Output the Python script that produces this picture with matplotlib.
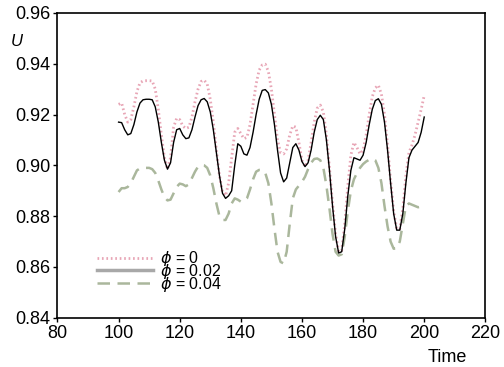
import matplotlib
matplotlib.use("Agg")
import matplotlib.pyplot as plt
import numpy as np
from matplotlib.lines import Line2D

plt.rcParams['font.family'] = ['Liberation Sans', 'DejaVu Sans']
plt.rcParams['mathtext.fontset'] = 'dejavusans'

# time axis, one sample per time unit (100..200)
time = np.arange(100, 201)

# phi = 0  (pink dotted)
u_phi0 = [0.9240, 0.9245, 0.9200, 0.9170, 0.9180, 0.9230, 0.9290, 0.9325, 0.9332, 0.9333,
          0.9333, 0.9332, 0.9300, 0.9220, 0.9120, 0.9030, 0.8985, 0.9030, 0.9150, 0.9185,
          0.9180, 0.9155, 0.9145, 0.9150, 0.9190, 0.9250, 0.9300, 0.9330, 0.9335, 0.9320,
          0.9260, 0.9170, 0.9060, 0.8960, 0.8895, 0.8880, 0.8930, 0.9030, 0.9130, 0.9145,
          0.9125, 0.9105, 0.9110, 0.9160, 0.9240, 0.9320, 0.9375, 0.9395, 0.9398, 0.9370,
          0.9300, 0.9200, 0.9100, 0.9050, 0.9045, 0.9065, 0.9120, 0.9155, 0.9150, 0.9090,
          0.9020, 0.8995, 0.9020, 0.9090, 0.9170, 0.9225, 0.9237, 0.9210, 0.9120, 0.8990,
          0.8850, 0.8730, 0.8660, 0.8665, 0.8770, 0.8920, 0.9040, 0.9090, 0.9070, 0.9045,
          0.9060, 0.9120, 0.9200, 0.9270, 0.9305, 0.9315, 0.9280, 0.9200, 0.9080, 0.8940,
          0.8820, 0.8750, 0.8750, 0.8830, 0.8960, 0.9050, 0.9080, 0.9120, 0.9170, 0.9220,
          0.9275]

# phi = 0.02  (black solid)
u_phi002 = [0.9170, 0.9168, 0.9140, 0.9120, 0.9125, 0.9160, 0.9210, 0.9245, 0.9258, 0.9260,
            0.9260, 0.9258, 0.9230, 0.9170, 0.9090, 0.9020, 0.8985, 0.9010, 0.9090, 0.9140,
            0.9145, 0.9120, 0.9105, 0.9108, 0.9140, 0.9190, 0.9235, 0.9258, 0.9263, 0.9250,
            0.9210, 0.9140, 0.9050, 0.8960, 0.8890, 0.8870, 0.8880, 0.8900, 0.9000, 0.9085,
            0.9075, 0.9045, 0.9040, 0.9070, 0.9130, 0.9200, 0.9260, 0.9295, 0.9298, 0.9285,
            0.9240, 0.9160, 0.9060, 0.8970, 0.8935, 0.8950, 0.9010, 0.9070, 0.9085, 0.9060,
            0.9015, 0.8995, 0.9010, 0.9060, 0.9130, 0.9180, 0.9197, 0.9180, 0.9100, 0.8980,
            0.8840, 0.8720, 0.8655, 0.8660, 0.8750, 0.8880, 0.8980, 0.9030, 0.9025, 0.9020,
            0.9040, 0.9090, 0.9160, 0.9220, 0.9255, 0.9262, 0.9240, 0.9170, 0.9060, 0.8930,
            0.8810, 0.8745, 0.8745, 0.8810, 0.8930, 0.9030, 0.9060, 0.9075, 0.9090, 0.9130,
            0.9190]

# phi = 0.04  (grey-green dashed)
u_phi004 = [0.8895, 0.8910, 0.8910, 0.8915, 0.8930, 0.8955, 0.8980, 0.8988, 0.8990, 0.8990,
            0.8990, 0.8985, 0.8970, 0.8940, 0.8905, 0.8875, 0.8862, 0.8865, 0.8890, 0.8915,
            0.8928, 0.8925, 0.8918, 0.8925, 0.8950, 0.8975, 0.8995, 0.9002, 0.9000, 0.8990,
            0.8960, 0.8910, 0.8850, 0.8800, 0.8785, 0.8785, 0.8810, 0.8850, 0.8870, 0.8865,
            0.8857, 0.8858, 0.8870, 0.8905, 0.8945, 0.8975, 0.8982, 0.8982, 0.8970, 0.8930,
            0.8850, 0.8750, 0.8660, 0.8620, 0.8614, 0.8660, 0.8770, 0.8870, 0.8905, 0.8920,
            0.8935, 0.8955, 0.8985, 0.9010, 0.9025, 0.9027, 0.9020, 0.8990, 0.8920, 0.8830,
            0.8730, 0.8660, 0.8645, 0.8650, 0.8720, 0.8820, 0.8900, 0.8945, 0.8970, 0.8990,
            0.9005, 0.9015, 0.9022, 0.9027, 0.9020, 0.8990, 0.8930, 0.8840, 0.8760, 0.8700,
            0.8672, 0.8673, 0.8700, 0.8770, 0.8840, 0.8850, 0.8845, 0.8840, 0.8835, 0.8838,
            0.8830]

labels = [r'$\phi$ = 0', r'$\phi$ = 0.02', r'$\phi$ = 0.04']
xticks = [80, 100, 120, 140, 160, 180, 200, 220]
yticks = [0.84, 0.86, 0.88, 0.90, 0.92, 0.94, 0.96]

pink = '#e8a6b6'
green = '#aab79c'

fig = plt.figure(figsize=(5.04, 3.67), dpi=100)
ax = fig.add_axes([0.114, 0.134, 0.849, 0.831])

ax.plot(time, u_phi0, color=pink, lw=2.0, linestyle=(0, (0.6, 1.0)))
ax.plot(time, u_phi004, color=green, lw=1.8, linestyle=(0, (5, 3)))
ax.plot(time, u_phi002, color='black', lw=1.0)

ax.set_xlim(80, 220)
ax.set_ylim(0.84, 0.96)
ax.set_xticks(xticks)
ax.set_yticks(yticks)
ax.set_yticklabels(['%.2f' % v for v in yticks])
ax.tick_params(direction='out', length=3, width=1, labelsize=13, pad=2)
for s in ax.spines.values():
    s.set_linewidth(1.2)

fig.text(0.034, 0.886, 'U', fontsize=12, style='italic', ha='center', va='center')
fig.text(0.887, 0.027, 'Time', fontsize=13, ha='center', va='center')

handles = [Line2D([], [], color=pink, lw=2.0, linestyle=(0, (0.6, 1.0))),
           Line2D([], [], color='#a8a8a8', lw=2.5),
           Line2D([], [], color=green, lw=1.8, linestyle=(0, (5, 3)))]
ax.legend(handles, labels, loc='lower left', bbox_to_anchor=(0.074, 0.052),
          frameon=False, fontsize=11.5, handlelength=3.5, handletextpad=0.45,
          labelspacing=-0.38, borderpad=0)

fig.savefig('out.png', dpi=100)
